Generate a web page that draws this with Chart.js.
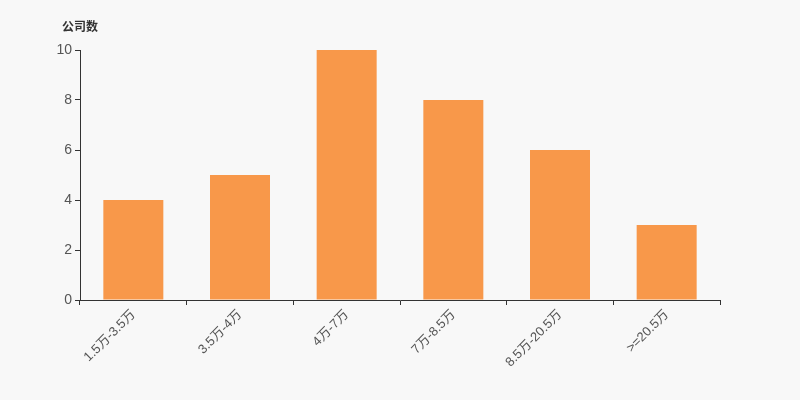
<!DOCTYPE html>
<html>
<head>
<meta charset="utf-8">
<script src="https://cdn.jsdelivr.net/npm/chart.js@4"></script>
<style>
  html, body { margin: 0; padding: 0; background: #f8f8f8; }
  #wrap { width: 800px; height: 400px; }
</style>
</head>
<body>
<div id="wrap"><canvas id="chart" width="800" height="400"></canvas></div>
<script>
// 数据
var categories = ['1.5万-3.5万', '3.5万-4万', '4万-7万', '7万-8.5万', '8.5万-20.5万', '>=20.5万'];
var companyCounts = [4, 5, 10, 8, 6, 3];
var yTicks = [0, 2, 4, 6, 8, 10];
var yTitle = '公司数';

var FONT = '"Liberation Sans", "Noto Sans CJK SC", sans-serif';

// 左上角的轴名
var axisNamePlugin = {
    id: 'axisName',
    afterDraw: function (chart) {
        var ctx = chart.ctx;
        ctx.save();
        ctx.font = 'bold 12px ' + FONT;
        ctx.fillStyle = '#333';
        ctx.textAlign = 'left';
        ctx.textBaseline = 'middle';
        ctx.fillText(yTitle, 62, 28);
        ctx.restore();
    }
};

new Chart(document.getElementById('chart'), {
    type: 'bar',
    data: {
        labels: categories,
        datasets: [{
            data: companyCounts,
            backgroundColor: '#f8984a',
            borderWidth: 0,
            barPercentage: 0.5625,
            categoryPercentage: 1
        }]
    },
    options: {
        responsive: false,
        animation: false,
        layout: { padding: { top: 50, right: 80, left: 0, bottom: 0 } },
        plugins: {
            legend: { display: false },
            tooltip: { enabled: false }
        },
        scales: {
            x: {
                afterFit: function (scale) { scale.height = 100; },
                grid: {
                    offset: true,
                    drawOnChartArea: false,
                    drawTicks: true,
                    tickLength: 5,
                    color: '#333'
                },
                border: { color: '#333', width: 1 },
                ticks: {
                    minRotation: 45,
                    maxRotation: 45,
                    autoSkip: false,
                    color: '#555',
                    padding: 2,
                    font: { size: 13, family: FONT }
                }
            },
            y: {
                min: 0,
                max: 10,
                afterFit: function (scale) { scale.width = 80; },
                afterBuildTicks: function (scale) {
                    scale.ticks = yTicks.map(function (v) { return { value: v }; });
                },
                grid: {
                    drawOnChartArea: false,
                    drawTicks: true,
                    tickLength: 5,
                    color: '#333'
                },
                border: { color: '#333', width: 1 },
                ticks: {
                    color: '#555',
                    padding: 3,
                    font: { size: 14, family: FONT }
                }
            }
        }
    },
    plugins: [axisNamePlugin]
});
</script>
</body>
</html>
